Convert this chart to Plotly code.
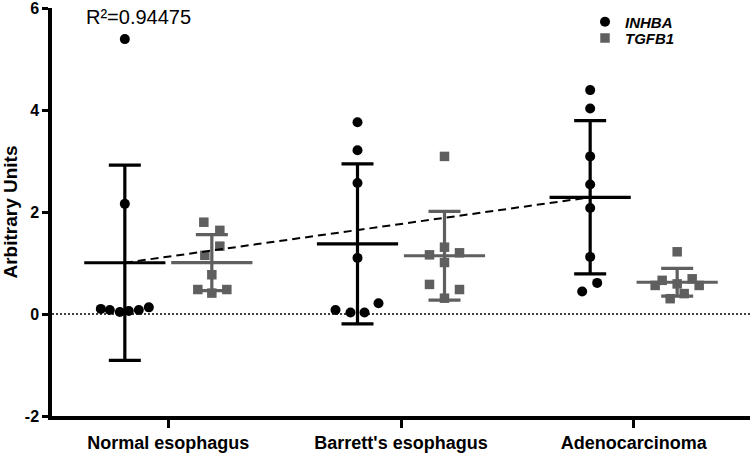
import numpy as np
import plotly.graph_objects as go

# ---------------- data ----------------
categories = ["Normal esophagus", "Barrett's esophagus", "Adenocarcinoma"]
series_names = ["INHBA", "TGFB1"]
inhba_values = [
    [5.39, 2.16, 0.10, 0.08, 0.04, 0.06, 0.08, 0.13],
    [3.76, 3.21, 2.57, 1.10, 0.08, 0.03, 0.03, 0.21],
    [4.39, 4.03, 3.09, 2.54, 2.08, 1.12, 0.61, 0.44],
]
tgfb1_values = [
    [1.80, 1.64, 1.33, 1.15, 0.77, 0.48, 0.41, 0.48],
    [3.09, 1.31, 1.16, 1.20, 1.01, 0.58, 0.48, 0.31],
    [1.22, 0.66, 0.69, 0.59, 0.56, 0.56, 0.40, 0.30],
]
y_tick_values = [-2, 0, 2, 4, 6]
r2_label = "R²=0.94475"

# ---------------- layout / styling (positions, not data) ----------------
W, H = 750, 453
margin = dict(l=52, r=0, t=8, b=31)
PW = W - margin["l"] - margin["r"]
PH = H - margin["t"] - margin["b"]
x_range = [-0.5, 2.5]
px_per_unit = PW / (x_range[1] - x_range[0])
group_shift_px = 43.5
# horizontal scatter offsets (px) of the dots within each column
inhba_jitter_px = [
    [0, 0, -24, -15, -5, 4, 14, 24],
    [0, 0, 0, 0, -22, -7, 7, 21],
    [0, 0, 0, 0, 0, 0, 7, -8],
]
tgfb1_jitter_px = [
    [-8, 8, 8, -7, 0, -14, 0, 15],
    [0, 0, -15, 15, 0, -15, 15, 0],
    [0, -15, 15, 0, -22, 22, 7, -7],
]
colors = {"INHBA": "#000000", "TGFB1": "#5f5f5f"}
symbols = {"INHBA": "circle", "TGFB1": "square"}
legend_ids = {"INHBA": "legend", "TGFB1": "legend2"}
FONT = "Liberation Sans, Arial, Helvetica, sans-serif"

fig = go.Figure()

def add_series(name, values, jitter, shift_px):
    shift = shift_px / px_per_unit
    xs, ys = [], []
    for ci, (vals, jit) in enumerate(zip(values, jitter)):
        for v, j in zip(vals, jit):
            xs.append(ci + shift + j / px_per_unit)
            ys.append(v)
    col = colors[name]
    means = [float(np.mean(v)) for v in values]
    sds = [float(np.std(v, ddof=1)) for v in values]
    cx = [ci + shift for ci in range(len(values))]
    fig.add_trace(go.Scatter(
        x=cx, y=means, mode="markers", showlegend=False, hoverinfo="skip",
        marker=dict(size=0.1, color=col),
        error_y=dict(type="data", array=sds, visible=True, color=col,
                     thickness=3.2, width=16),
    ))
    fig.add_trace(go.Scatter(
        x=xs, y=ys, mode="markers", name=f"<b><i>{name}</i></b>",
        legend=legend_ids[name],
        marker=dict(symbol=symbols[name], size=10 if name == "INHBA" else 9.5,
                    color=col, line=dict(width=0)),
    ))
    fig.add_trace(go.Scatter(
        x=cx, y=means, mode="markers", showlegend=False, hoverinfo="skip",
        marker=dict(symbol="line-ew", size=58, color=col,
                    line=dict(width=3.2, color=col)),
    ))
    return cx, means

inh_x, inh_means = add_series("INHBA", inhba_values, inhba_jitter_px, -group_shift_px)
add_series("TGFB1", tgfb1_values, tgfb1_jitter_px, group_shift_px)

# dashed trend line through the INHBA means (first to last group)
fig.add_trace(go.Scatter(
    x=[inh_x[0], inh_x[-1]], y=[inh_means[0], inh_means[-1]],
    mode="lines", showlegend=False, hoverinfo="skip",
    line=dict(color="black", width=2, dash="8px,5px"),
))

# dotted zero reference line
fig.add_shape(type="line", xref="paper", x0=0, x1=1, yref="y", y0=0, y1=0,
              line=dict(color="black", width=1.5, dash="2px,2px"), layer="below")

fig.add_annotation(text=r2_label, xref="paper", yref="paper",
                   x=(138 - margin["l"]) / PW,
                   y=1 + (margin["t"] - 17) / PH,
                   xanchor="center", yanchor="middle", showarrow=False,
                   font=dict(family=FONT, size=20, color="black"))

legend_style = dict(xanchor="left", yanchor="top",
                    font=dict(family=FONT, size=15, color="black"),
                    bgcolor="rgba(0,0,0,0)", itemsizing="trace")
legend_left = (585 - margin["l"]) / PW
legend_top_px = [5.5, 22]

fig.update_layout(
    width=W, height=H, margin=margin,
    plot_bgcolor="white", paper_bgcolor="white",
    font=dict(family=FONT, color="black"),
    legend=dict(x=legend_left, y=1 + (margin["t"] - legend_top_px[0]) / PH, **legend_style),
    legend2=dict(x=legend_left, y=1 + (margin["t"] - legend_top_px[1]) / PH, **legend_style),
    xaxis=dict(range=x_range, tickmode="array", tickvals=list(range(len(categories))),
               ticktext=[f"<b>{c}</b>" for c in categories],
               showline=True, linewidth=3.5, linecolor="black",
               ticks="outside", ticklen=8, tickwidth=3, tickcolor="black",
               showgrid=False, zeroline=False,
               tickfont=dict(family=FONT, size=18, color="black")),
    yaxis=dict(range=[-2, 6], tickmode="array", tickvals=y_tick_values,
               ticktext=[f"<b>{v}</b>" for v in y_tick_values],
               ticklabeloverflow="allow",
               showline=True, linewidth=3.5, linecolor="black",
               ticks="outside", ticklen=6, tickwidth=3, tickcolor="black",
               showgrid=False, zeroline=False,
               tickfont=dict(family=FONT, size=16, color="black"),
               title=dict(text="<b>Arbitrary Units</b>", standoff=6,
                          font=dict(family=FONT, size=19, color="black"))),
)

fig.write_html("out.html", config={"displayModeBar": False},
               post_script="document.body.style.margin='0px';")
